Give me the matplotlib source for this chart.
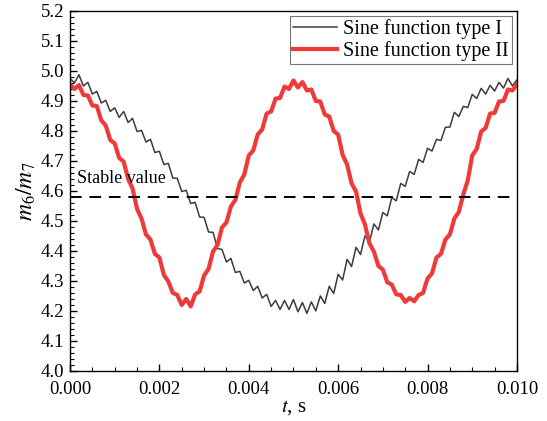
import matplotlib
matplotlib.use("Agg")
import matplotlib.pyplot as plt
from matplotlib.ticker import MultipleLocator, FormatStrFormatter

plt.rcParams['font.family'] = ['Liberation Serif', 'DejaVu Serif']
plt.rcParams['mathtext.fontset'] = 'stix'

# time axis, s (step 0.0001)
t = [i * 0.0001 for i in range(101)]

type1 = [4.975, 4.96, 4.987, 4.95, 4.962, 4.923, 4.932, 4.893, 4.902, 4.865,
         4.877, 4.845, 4.865, 4.828, 4.842, 4.798, 4.802, 4.763, 4.772, 4.728,
         4.732, 4.688, 4.692, 4.643, 4.642, 4.598, 4.602, 4.558, 4.562, 4.513,
         4.512, 4.463, 4.462, 4.408, 4.405, 4.363, 4.375, 4.328, 4.332, 4.293,
         4.302, 4.268, 4.282, 4.243, 4.255, 4.215, 4.235, 4.205, 4.235, 4.205,
         4.238, 4.197, 4.228, 4.192, 4.23, 4.20, 4.25, 4.225, 4.282, 4.258,
         4.322, 4.303, 4.372, 4.348, 4.412, 4.388, 4.45, 4.43, 4.49, 4.47,
         4.528, 4.517, 4.578, 4.567, 4.625, 4.615, 4.665, 4.655, 4.705, 4.695,
         4.742, 4.733, 4.772, 4.768, 4.812, 4.813, 4.862, 4.848, 4.882, 4.878,
         4.922, 4.908, 4.942, 4.923, 4.952, 4.933, 4.962, 4.943, 4.975, 4.95,
         4.97]

type2 = [4.955, 4.94, 4.953, 4.92, 4.918, 4.885, 4.883, 4.835, 4.818, 4.77,
         4.758, 4.71, 4.698, 4.64, 4.608, 4.54, 4.508, 4.455, 4.438, 4.39,
         4.378, 4.32, 4.298, 4.26, 4.253, 4.22, 4.24, 4.215, 4.255, 4.265,
         4.318, 4.34, 4.398, 4.42, 4.478, 4.495, 4.548, 4.57, 4.628, 4.655,
         4.718, 4.735, 4.788, 4.805, 4.858, 4.865, 4.908, 4.91, 4.948, 4.94,
         4.968, 4.945, 4.963, 4.935, 4.938, 4.90, 4.898, 4.855, 4.848, 4.80,
         4.788, 4.72, 4.688, 4.625, 4.598, 4.525, 4.488, 4.425, 4.398, 4.35,
         4.338, 4.295, 4.288, 4.255, 4.253, 4.23, 4.243, 4.232, 4.253, 4.26,
         4.308, 4.325, 4.378, 4.39, 4.438, 4.455, 4.508, 4.53, 4.588, 4.635,
         4.718, 4.74, 4.798, 4.81, 4.858, 4.86, 4.898, 4.90, 4.938, 4.935,
         4.955]

stable_value = 4.58
labels = ["Sine function type I", "Sine function type II"]

fig = plt.figure(figsize=(5.47, 4.21), dpi=100)
ax = fig.add_axes([0.128, 0.119, 0.817, 0.855])

ax.plot(t, type1, color='#3c3c3c', lw=1.1, label=labels[0])
ax.plot(t, type2, color='#f03a3a', lw=3.0, label=labels[1])
ax.axhline(stable_value, color='black', lw=1.4, dashes=(6, 4))
ax.text(0.00015, 4.612, "Stable value", fontsize=13, ha='left', va='bottom')

ax.set_xlim(0.0, 0.010)
ax.set_ylim(4.0, 5.2)
ax.xaxis.set_major_locator(MultipleLocator(0.002))
ax.xaxis.set_minor_locator(MultipleLocator(0.0005))
ax.yaxis.set_major_locator(MultipleLocator(0.1))
ax.yaxis.set_minor_locator(MultipleLocator(0.02))
ax.xaxis.set_major_formatter(FormatStrFormatter('%.3f'))
ax.yaxis.set_major_formatter(FormatStrFormatter('%.1f'))
ax.tick_params(which='both', direction='in', top=False, right=False, labelsize=13.5)
ax.tick_params(axis='x', which='major', pad=7)
ax.tick_params(axis='y', which='major', pad=4)
ax.tick_params(which='major', length=5, width=1)
ax.tick_params(which='minor', length=3, width=0.8)
for s in ax.spines.values():
    s.set_linewidth(1.0)

ax.set_xlabel(r"$t$, s", fontsize=15, labelpad=0)
ax.set_ylabel(r"$m_6/m_7$", fontsize=17, labelpad=2)

leg = ax.legend(loc='upper right', fontsize=14.5, frameon=True, fancybox=False,
                edgecolor='#555555', handlelength=2.2, borderpad=0.15,
                labelspacing=0.1, handletextpad=0.3, borderaxespad=0.25)
leg.get_frame().set_linewidth(0.8)

fig.savefig("out.png", dpi=100)
